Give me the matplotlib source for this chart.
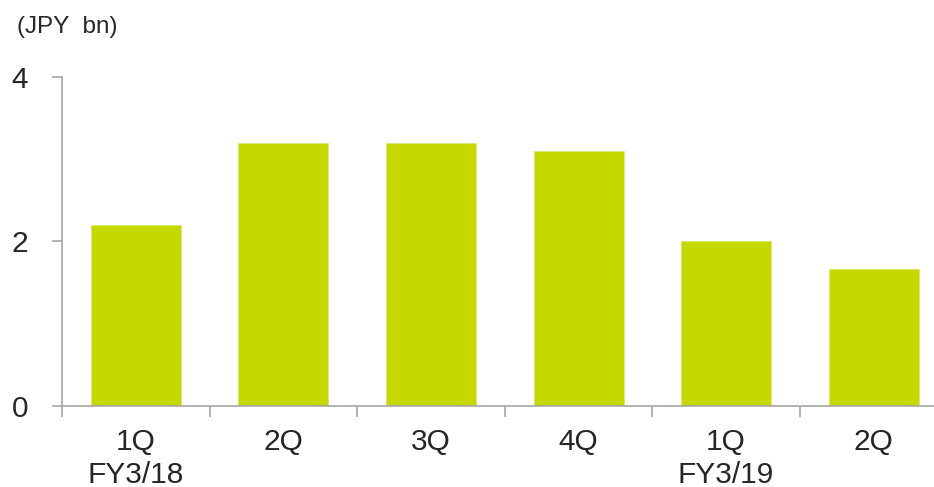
import numpy as np
import matplotlib.pyplot as plt

plt.rcParams['font.family'] = ['Liberation Sans', 'DejaVu Sans']

# data
quarters = ["1Q\nFY3/18", "2Q", "3Q", "4Q", "1Q\nFY3/19", "2Q"]
values = [2.2, 3.2, 3.2, 3.1, 2.0, 1.67]
y_ticks = [0, 2, 4]

BAR_COLOR = "#C5D900"
AXIS_COLOR = "#A6A6A6"
TEXT_COLOR = "#262626"

fig = plt.figure(figsize=(9.34, 4.87), dpi=100)
ax = fig.add_axes([0.0664, 0.1663, 0.948, 0.676])

x = np.arange(len(quarters))
ax.bar(x, values, width=0.61, color=BAR_COLOR, edgecolor="#DDE870", linewidth=0.6)

ax.set_xlim(-0.5, len(quarters) - 0.5)
ax.set_ylim(0, 4)

ax.set_yticks(y_ticks)
ax.set_yticklabels([str(t) for t in y_ticks], fontsize=21.5, color=TEXT_COLOR)
ax.tick_params(axis="y", direction="out", length=7, width=1.2, color=AXIS_COLOR, pad=17.5)

ax.set_xticks(x)
ax.set_xticklabels(quarters, fontsize=21.5, color=TEXT_COLOR, linespacing=1.2)
ax.tick_params(axis="x", which="major", length=0, pad=16)
ax.set_xticks(np.arange(len(quarters) + 1) - 0.5, minor=True)
ax.tick_params(axis="x", which="minor", direction="out", length=8, width=1.2, color=AXIS_COLOR)

for side in ["top", "right"]:
    ax.spines[side].set_visible(False)
for side in ["left", "bottom"]:
    ax.spines[side].set_color(AXIS_COLOR)
    ax.spines[side].set_linewidth(1.2)

fig.text(0.018, 0.945, "(JPY  bn)", fontsize=17.5, color=TEXT_COLOR, va="center", ha="left")

fig.savefig("out.png", dpi=100)
